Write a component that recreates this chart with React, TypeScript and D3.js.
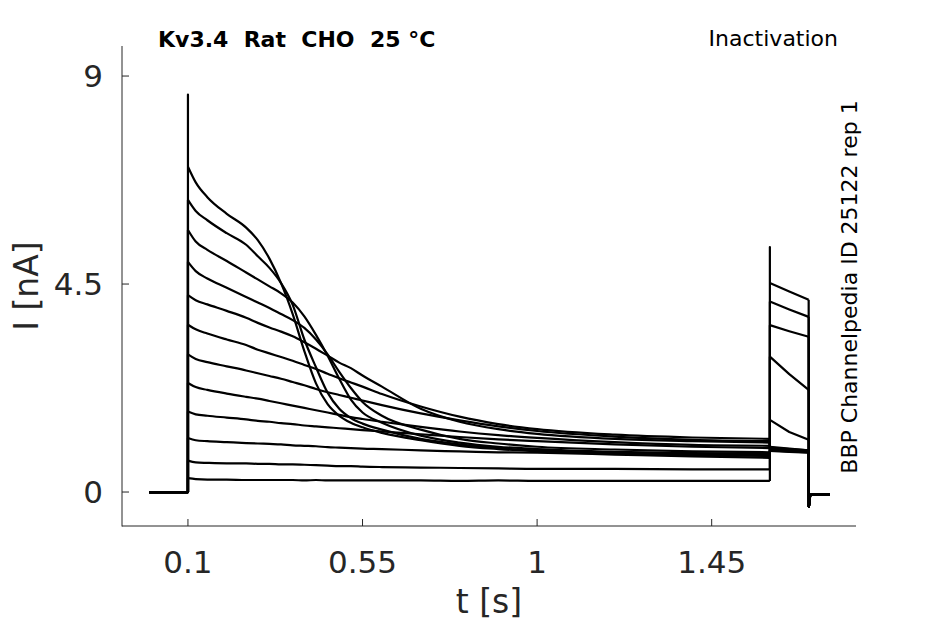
import React from 'react';
import * as d3 from 'd3';

// prepulse sample times (s) and currents (nA), one array per sweep
const stepTimes = [0.1, 0.12, 0.15, 0.2, 0.25, 0.28, 0.31, 0.34, 0.37, 0.4, 0.43, 0.46, 0.49, 0.52, 0.55, 0.6, 0.7, 0.8, 0.9, 1.0, 1.2, 1.4, 1.6];

const sweep1 = [7.04, 6.7, 6.38, 6.02, 5.72, 5.45, 5.05, 4.52, 3.85, 3.05, 2.35, 1.9, 1.65, 1.5, 1.4, 1.28, 1.12, 1.0, 0.93, 0.88, 0.83, 0.8, 0.78];
const sweep2 = [6.32, 6.08, 5.88, 5.6, 5.35, 5.1, 4.85, 4.52, 4.05, 3.3, 2.7, 2.15, 1.8, 1.6, 1.48, 1.35, 1.15, 1.03, 0.95, 0.9, 0.85, 0.82, 0.8];
const sweep3 = [5.67, 5.42, 5.24, 5.0, 4.75, 4.6, 4.45, 4.3, 4.1, 3.8, 3.4, 2.95, 2.45, 2.0, 1.72, 1.5, 1.22, 1.07, 0.98, 0.93, 0.87, 0.84, 0.83];
const sweep4 = [4.98, 4.78, 4.62, 4.42, 4.22, 4.1, 3.98, 3.85, 3.72, 3.55, 3.3, 2.98, 2.6, 2.25, 1.95, 1.65, 1.35, 1.15, 1.05, 0.98, 0.92, 0.88, 0.86];
const sweep5 = [4.26, 4.15, 4.06, 3.92, 3.77, 3.66, 3.56, 3.47, 3.37, 3.24, 3.1, 2.95, 2.8, 2.68, 2.52, 2.28, 1.8, 1.52, 1.36, 1.26, 1.15, 1.1, 1.07];
const sweep6 = [3.62, 3.52, 3.43, 3.3, 3.18, 3.08, 3.0, 2.92, 2.84, 2.75, 2.66, 2.56, 2.46, 2.37, 2.28, 2.12, 1.85, 1.63, 1.47, 1.36, 1.24, 1.18, 1.15];
const sweep7 = [2.98, 2.88, 2.81, 2.72, 2.63, 2.57, 2.51, 2.45, 2.38, 2.31, 2.23, 2.16, 2.1, 2.04, 1.98, 1.88, 1.7, 1.55, 1.42, 1.32, 1.2, 1.13, 1.1];
const sweep8 = [2.36, 2.27, 2.21, 2.13, 2.06, 2.02, 1.97, 1.92, 1.87, 1.82, 1.77, 1.72, 1.67, 1.62, 1.58, 1.52, 1.41, 1.31, 1.23, 1.17, 1.08, 1.02, 1.0];
const sweep9 = [1.74, 1.68, 1.65, 1.61, 1.57, 1.54, 1.52, 1.49, 1.47, 1.44, 1.42, 1.4, 1.38, 1.36, 1.34, 1.31, 1.25, 1.19, 1.14, 1.1, 1.03, 0.98, 0.95];
const sweep10 = [1.17, 1.12, 1.1, 1.08, 1.06, 1.05, 1.04, 1.03, 1.01, 1.0, 0.99, 0.97, 0.96, 0.95, 0.94, 0.93, 0.9, 0.88, 0.86, 0.85, 0.81, 0.77, 0.74];
const sweep11 = [0.68, 0.64, 0.63, 0.62, 0.62, 0.61, 0.61, 0.6, 0.6, 0.59, 0.58, 0.57, 0.56, 0.56, 0.55, 0.54, 0.53, 0.52, 0.51, 0.5, 0.5, 0.49, 0.49];
const sweep12 = [0.3, 0.28, 0.27, 0.27, 0.26, 0.26, 0.26, 0.26, 0.26, 0.25, 0.26, 0.25, 0.25, 0.25, 0.25, 0.25, 0.25, 0.24, 0.25, 0.24, 0.24, 0.24, 0.24];

// test pulse
const testTimes = [1.6, 1.65, 1.7];
const test1 = [0.89, 0.87, 0.85];
const test2 = [0.9, 0.88, 0.86];
const test3 = [0.92, 0.89, 0.87];
const test4 = [0.93, 0.9, 0.88];
const test5 = [0.95, 0.92, 0.89];
const test6 = [0.96, 0.93, 0.9];
const test7 = [0.98, 0.94, 0.9];
const test8 = [1.56, 1.3, 1.13];
const test9 = [2.93, 2.55, 2.21];
const test10 = [3.61, 3.48, 3.36];
const test11 = [4.12, 3.95, 3.79];
const test12 = [4.52, 4.34, 4.16];

// holding before the step and the tail after the test pulse
const holdTimes = [0, 0.1];
const holdValues = [0, 0];
const tailTimes = [1.7005, 1.704, 1.755];
const tailValues = [-0.32, -0.06, -0.05];

// capacitive transients
const stepSpike = 8.6;
const testSpike = 5.3;

const sweeps = [sweep1, sweep2, sweep3, sweep4, sweep5, sweep6, sweep7, sweep8, sweep9, sweep10, sweep11, sweep12];
const tests = [test1, test2, test3, test4, test5, test6, test7, test8, test9, test10, test11, test12];

const xTicks = [0.1, 0.55, 1, 1.45];
const yTicks = [0, 4.5, 9];

const axisColor = '#262626';
const font = 'DejaVu Sans, sans-serif';

const App = () => {
  const left = 122, right = 856, top = 46, bottom = 526;
  const x = d3.scaleLinear().domain([-0.07, 1.822]).range([left, right]);
  const y = d3.scaleLinear().domain([-0.735, 9.65]).range([bottom, top]);

  const linear = d3.line<number[]>().x((d) => x(d[0])).y((d) => y(d[1]));
  const smooth = d3.line<number[]>().x((d) => x(d[0])).y((d) => y(d[1])).curve(d3.curveMonotoneX);

  const paths: string[] = [];
  sweeps.forEach((vals, i) => {
    const test = tests[i];
    const hold = holdTimes.map((t, k) => [t, holdValues[k]]);
    const jump1 = [[0.1, i === 0 ? stepSpike : vals[0]], [0.1, vals[0]]];
    const pre = stepTimes.map((t, k) => [t, vals[k]]);
    const jump2 = [[1.6, vals[vals.length - 1]], [1.6, i === sweeps.length - 1 ? testSpike : test[0]], [1.6, test[0]]];
    const tst = testTimes.map((t, k) => [t, test[k]]);
    const tail = [[1.7, test[test.length - 1]], ...tailTimes.map((t, k) => [t, tailValues[k]])];
    paths.push(linear([...hold, ...jump1]) as string);
    paths.push(smooth(pre) as string);
    paths.push(linear(jump2) as string);
    paths.push(linear(tst) as string);
    paths.push(linear(tail) as string);
  });

  return (
    <svg width={945} height={624} style={{ position: 'absolute', left: 0, top: 0, background: '#fff' }}>
      <rect width={945} height={624} fill="#fff" />
      <g fill="none" stroke="#000" strokeWidth={2.2} strokeLinejoin="round">
        {paths.map((d, i) => (
          <path key={i} d={d} />
        ))}
      </g>

      {/* axes */}
      <g stroke={axisColor} strokeWidth={1} fill="none">
        <line x1={left} x2={left} y1={top} y2={bottom + 0.5} />
        <line x1={left} x2={right} y1={bottom} y2={bottom} />
        {xTicks.map((t) => (
          <line key={t} x1={x(t)} x2={x(t)} y1={bottom} y2={bottom - 7} />
        ))}
        {yTicks.map((t) => (
          <line key={t} x1={left} x2={left + 7} y1={y(t)} y2={y(t)} />
        ))}
      </g>
      <g fill={axisColor} fontFamily={font} fontSize={31}>
        {xTicks.map((t) => (
          <text key={t} x={x(t)} y={bottom + 47} textAnchor="middle">
            {String(t)}
          </text>
        ))}
        {yTicks.map((t) => (
          <text key={t} x={left - 19} y={y(t) + 11} textAnchor="end">
            {String(t)}
          </text>
        ))}
        <text x={(left + right) / 2} y={613} textAnchor="middle" fontSize={33}>
          t [s]
        </text>
        <text transform={`translate(38,${y(4.5) + 2}) rotate(-90)`} textAnchor="middle" fontSize={33}>
          I [nA]
        </text>
      </g>

      <text x={158} y={47} fontFamily={font} fontWeight="bold" fontSize={22} fill="#000" style={{ whiteSpace: 'pre' }}>
        {'Kv3.4  Rat  CHO  25 °C'}
      </text>
      <text x={838} y={46} fontFamily={font} fontSize={22} textAnchor="end" fill="#000">
        Inactivation
      </text>
      <text transform={`translate(857,287) rotate(-90)`} fontFamily={font} fontSize={22} textAnchor="middle" fill="#000">
        BBP Channelpedia ID 25122 rep 1
      </text>
    </svg>
  );
};

export default App;
